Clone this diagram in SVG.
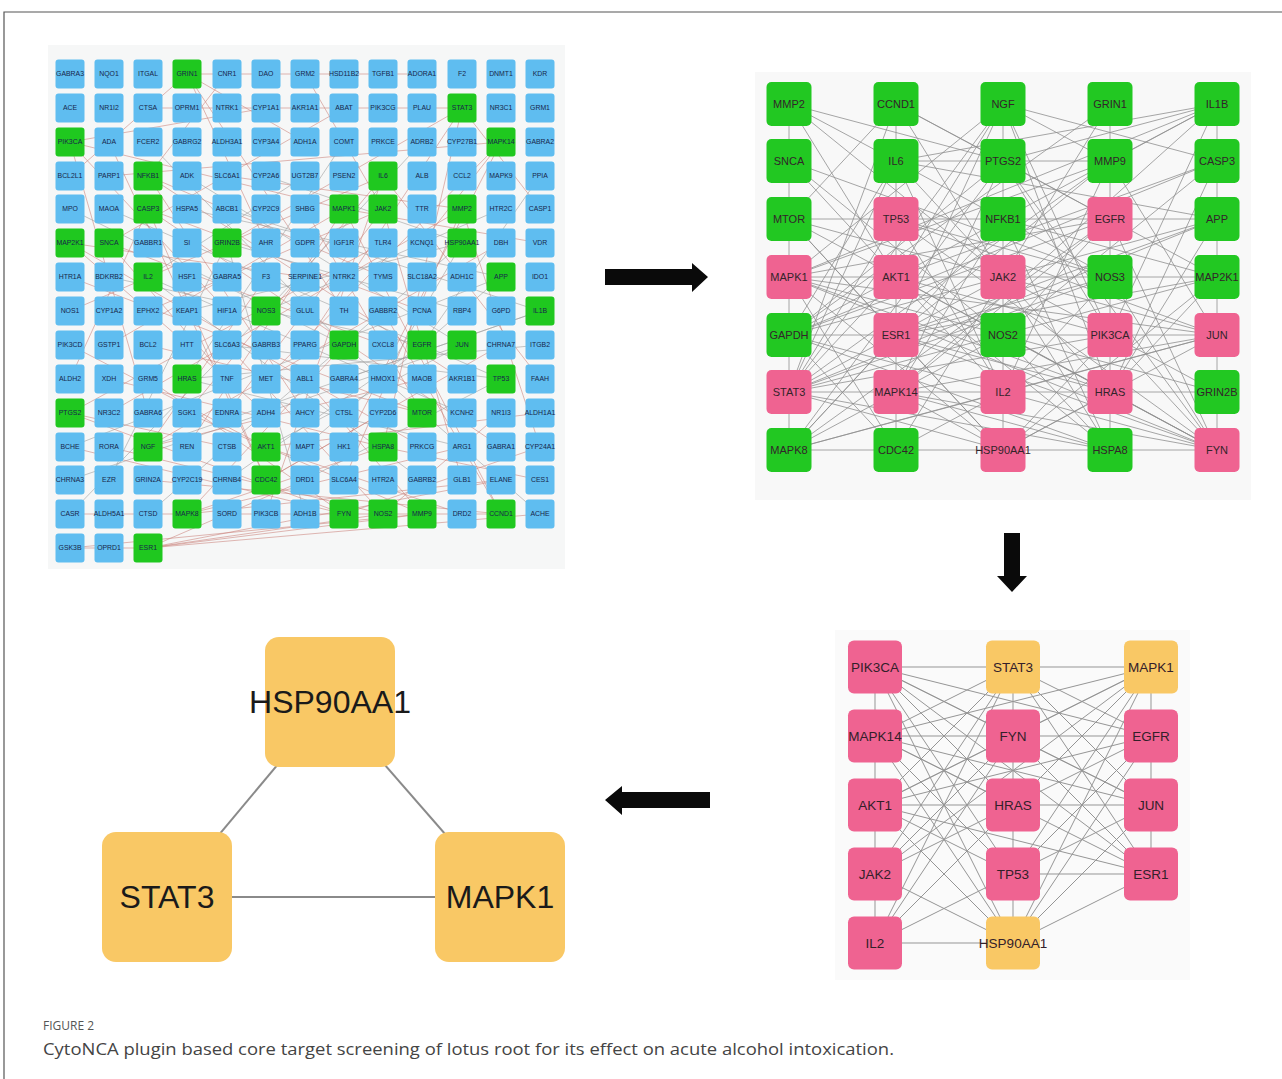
<svg xmlns="http://www.w3.org/2000/svg" xmlns:xlink="http://www.w3.org/1999/xlink" width="1282" height="1079" viewBox="0 0 1282 1079">
<style>
.bl{fill:#5fbdf0}.gr{fill:#1fc81f}
.t1{font-family:"Liberation Sans",Arial,sans-serif;font-size:6.9px;fill:#17264a;text-anchor:middle}
.p2g{fill:#22c822}.p2p{fill:#ef6391}.p3o{fill:#f9c865}
.t2{font-family:"Liberation Sans",Arial,sans-serif;font-size:11px;fill:#33242a;text-anchor:middle}
.t3{font-family:"Liberation Sans",Arial,sans-serif;font-size:13.5px;fill:#33202a;text-anchor:middle}
.t4{font-family:"Liberation Sans",Arial,sans-serif;font-size:32px;fill:#1a1a1a;text-anchor:middle}
.e1{stroke:#c98078;stroke-width:0.7;fill:none;opacity:0.8}
.e1b{stroke:#9e9e9e;stroke-width:0.7;fill:none;opacity:0.85}
.e2 line{stroke:#8f8f8f;stroke-width:0.8}
.e3 line{stroke:#959595;stroke-width:1}
.e4 line{stroke:#8a8a8a;stroke-width:2}
.arr{fill:#0a0a0a}
.cap1{font-family:"Open Sans","Noto Sans",sans-serif;font-size:12px;fill:#555}
.cap2{font-family:"Open Sans","Noto Sans",sans-serif;font-size:17px;fill:#444}
</style>
<defs>
<rect id="nb" x="-14.5" y="-14.5" width="29" height="29" rx="3"/>
<rect id="nb2" x="-22.5" y="-22" width="45" height="44" rx="5"/>
<rect id="nb3" x="-27" y="-26.5" width="54" height="53" rx="6"/>
<rect id="nb4" x="-65" y="-65" width="130" height="130" rx="14"/>
</defs>
<rect width="1282" height="1079" fill="#ffffff"/>
<path d="M4 1079V12H1282" stroke="#555" stroke-width="1.2" fill="none"/>
<rect x="48" y="45" width="517" height="524" fill="#f6f7f7"/>
<rect x="755" y="72" width="496" height="428" fill="#f8f8f8"/>
<rect x="835" y="630" width="355" height="350" fill="#fafafa"/>

<g id="connectors">
<g id="grid-edges">
<path class="e1" d="M187 74L305 142M187 74L266 243M187 74L70 176M187 74L422 74M187 74L344 311M462 108L227 243M462 108L305 345M462 108L383 447M462 108L540 209M462 108L148 108M70 142L227 311M70 142L344 209M70 142L148 413M70 142L266 108M501 142L266 379M501 142L344 447M501 142L422 243M501 142L109 176M148 176L383 277M148 176L305 413M148 176L462 379M148 176L227 74M383 176L70 311M383 176L187 413M383 176L266 514M383 176L540 379M148 209L422 311M148 209L266 480M148 209L501 447M148 209L70 379M344 209L109 345M344 209L187 447M344 209L501 514M344 209L540 243M383 209L148 311M383 209L227 413M383 209L462 480M383 209L305 74M462 209L227 176M462 209L109 413M462 209L344 480M462 209L540 447M70 243L305 277M70 243L266 413M70 243L422 447M109 243L344 108M109 243L227 379M109 243L383 345"/>
<path class="e1b" d="M227 243L462 311M227 243L109 480M227 243L305 514M462 243L187 311M462 243L266 176M462 243L148 514M462 243L383 379M148 277L462 413M148 277L305 176M148 277L422 480M501 277L187 209M501 277L305 447M501 277L70 447M266 311L501 209M266 311L70 514M266 311L422 142M540 311L227 209M540 311L344 379M540 311L148 447M344 345L70 209M344 345L540 514M344 345L148 142M422 345L109 277M422 345L227 480M422 345L540 176M462 345L187 176M462 345L266 447M462 345L70 480M187 379L462 447M187 379L344 142M187 379L540 345M501 379L227 345M501 379L109 209M501 379L305 480"/>
<path class="e1" d="M70 413L344 514M70 413L383 243M70 413L227 447M422 413L148 345M422 413L70 277M422 413L305 209M148 447L422 379M148 447L501 243M148 447L266 277M266 447L540 413M266 447L70 345M266 447L462 514M383 447L109 379M383 447L187 514M383 447L540 480M266 480L501 345M266 480L109 142M266 480L383 413M187 514L462 447M187 514L344 345M187 514L501 480M344 514L70 447M344 514L148 379M344 514L540 447M383 514L109 447M383 514L227 345M383 514L501 413M422 514L187 413M422 514L305 379M422 514L70 548M501 514L227 514M501 514L148 480M501 514L383 311M148 548L422 514M148 548L540 514M148 548L305 480M148 548L501 480M148 548L383 514M70 548L148 548M70 514L187 514"/>
</g>
<g id="p2-edges" class="e2">
<line x1="789" y1="104" x2="789" y2="450"/><line x1="896" y1="104" x2="896" y2="450"/><line x1="1003" y1="104" x2="1003" y2="450"/><line x1="1110" y1="104" x2="1110" y2="450"/><line x1="1217" y1="104" x2="1217" y2="450"/>
<line x1="896" y1="161" x2="1110" y2="161"/><line x1="789" y1="219" x2="1217" y2="219"/><line x1="789" y1="277" x2="1217" y2="277"/><line x1="789" y1="335" x2="1217" y2="335"/><line x1="789" y1="392" x2="1217" y2="392"/><line x1="789" y1="450" x2="1217" y2="450"/>
<line x1="789" y1="104" x2="896" y2="161"/><line x1="789" y1="104" x2="1003" y2="161"/><line x1="789" y1="104" x2="896" y2="277"/><line x1="789" y1="104" x2="1003" y2="277"/>
<line x1="896" y1="104" x2="1003" y2="161"/><line x1="896" y1="104" x2="789" y2="219"/><line x1="896" y1="104" x2="1110" y2="219"/><line x1="896" y1="104" x2="1003" y2="277"/><line x1="896" y1="104" x2="789" y2="392"/>
<line x1="1003" y1="104" x2="1110" y2="161"/><line x1="1003" y1="104" x2="1217" y2="161"/><line x1="1003" y1="104" x2="789" y2="277"/><line x1="1003" y1="104" x2="896" y2="335"/><line x1="1003" y1="104" x2="789" y2="392"/><line x1="1003" y1="104" x2="1110" y2="335"/><line x1="1003" y1="104" x2="896" y2="277"/><line x1="1003" y1="104" x2="1110" y2="392"/>
<line x1="1110" y1="104" x2="1003" y2="277"/><line x1="1110" y1="104" x2="789" y2="335"/>
<line x1="1217" y1="104" x2="1003" y2="161"/><line x1="1217" y1="104" x2="896" y2="161"/><line x1="1217" y1="104" x2="789" y2="277"/><line x1="1217" y1="104" x2="1110" y2="335"/><line x1="1217" y1="104" x2="896" y2="392"/><line x1="1217" y1="104" x2="1003" y2="219"/><line x1="1217" y1="104" x2="1110" y2="161"/>
<line x1="789" y1="161" x2="896" y2="277"/><line x1="789" y1="161" x2="1003" y2="335"/><line x1="789" y1="161" x2="1110" y2="277"/>
<line x1="896" y1="161" x2="1110" y2="277"/><line x1="896" y1="161" x2="1003" y2="392"/><line x1="896" y1="161" x2="789" y2="335"/><line x1="896" y1="161" x2="1217" y2="219"/><line x1="896" y1="161" x2="789" y2="392"/><line x1="896" y1="161" x2="1110" y2="392"/>
<line x1="1003" y1="161" x2="789" y2="335"/><line x1="1003" y1="161" x2="1217" y2="277"/><line x1="1003" y1="161" x2="896" y2="392"/><line x1="1003" y1="161" x2="1110" y2="335"/><line x1="1003" y1="161" x2="789" y2="450"/><line x1="1003" y1="161" x2="1217" y2="450"/>
<line x1="1110" y1="161" x2="789" y2="277"/><line x1="1110" y1="161" x2="896" y2="335"/><line x1="1110" y1="161" x2="1217" y2="335"/><line x1="1110" y1="161" x2="1003" y2="392"/><line x1="1110" y1="161" x2="789" y2="392"/>
<line x1="1217" y1="161" x2="789" y2="335"/><line x1="1217" y1="161" x2="896" y2="277"/><line x1="1217" y1="161" x2="1003" y2="335"/><line x1="1217" y1="161" x2="1110" y2="392"/>
<line x1="789" y1="219" x2="1003" y2="277"/><line x1="789" y1="219" x2="896" y2="335"/><line x1="789" y1="219" x2="1110" y2="392"/><line x1="789" y1="219" x2="1003" y2="450"/>
<line x1="896" y1="219" x2="1110" y2="277"/><line x1="896" y1="219" x2="1217" y2="335"/><line x1="896" y1="219" x2="789" y2="392"/><line x1="896" y1="219" x2="1003" y2="392"/><line x1="896" y1="219" x2="1217" y2="450"/>
<line x1="1003" y1="219" x2="1217" y2="277"/><line x1="1003" y1="219" x2="789" y2="335"/><line x1="1003" y1="219" x2="896" y2="392"/><line x1="1003" y1="219" x2="1110" y2="450"/><line x1="1003" y1="219" x2="789" y2="450"/>
<line x1="1110" y1="219" x2="789" y2="335"/><line x1="1110" y1="219" x2="896" y2="392"/><line x1="1110" y1="219" x2="1003" y2="335"/><line x1="1110" y1="219" x2="789" y2="450"/><line x1="1110" y1="219" x2="1217" y2="450"/><line x1="1110" y1="219" x2="789" y2="277"/>
<line x1="1217" y1="219" x2="896" y2="335"/><line x1="1217" y1="219" x2="789" y2="392"/><line x1="1217" y1="219" x2="1110" y2="392"/><line x1="1217" y1="219" x2="1003" y2="277"/>
<line x1="789" y1="277" x2="1003" y2="335"/><line x1="789" y1="277" x2="1110" y2="392"/><line x1="789" y1="277" x2="896" y2="450"/><line x1="789" y1="277" x2="1217" y2="335"/><line x1="789" y1="277" x2="1003" y2="450"/><line x1="789" y1="277" x2="1217" y2="450"/>
<line x1="896" y1="277" x2="1110" y2="335"/><line x1="896" y1="277" x2="789" y2="392"/><line x1="896" y1="277" x2="1003" y2="392"/><line x1="896" y1="277" x2="1217" y2="450"/><line x1="896" y1="277" x2="1110" y2="450"/>
<line x1="1003" y1="277" x2="1217" y2="335"/><line x1="1003" y1="277" x2="789" y2="392"/><line x1="1003" y1="277" x2="896" y2="450"/><line x1="1003" y1="277" x2="1217" y2="392"/><line x1="1003" y1="277" x2="789" y2="335"/><line x1="1003" y1="277" x2="1110" y2="450"/>
<line x1="1110" y1="277" x2="789" y2="392"/><line x1="1110" y1="277" x2="896" y2="335"/><line x1="1110" y1="277" x2="1217" y2="450"/><line x1="1110" y1="277" x2="1003" y2="392"/>
<line x1="1217" y1="277" x2="789" y2="392"/><line x1="1217" y1="277" x2="1003" y2="450"/><line x1="1217" y1="277" x2="896" y2="335"/><line x1="1217" y1="277" x2="1110" y2="392"/>
<line x1="789" y1="335" x2="1003" y2="392"/><line x1="789" y1="335" x2="896" y2="450"/><line x1="789" y1="335" x2="1110" y2="450"/>
<line x1="896" y1="335" x2="1110" y2="392"/><line x1="896" y1="335" x2="789" y2="450"/><line x1="896" y1="335" x2="1003" y2="450"/><line x1="896" y1="335" x2="1217" y2="450"/>
<line x1="1003" y1="335" x2="1217" y2="392"/><line x1="1003" y1="335" x2="789" y2="450"/><line x1="1003" y1="335" x2="1110" y2="450"/><line x1="1003" y1="335" x2="1217" y2="450"/>
<line x1="1110" y1="335" x2="789" y2="392"/><line x1="1110" y1="335" x2="896" y2="450"/><line x1="1110" y1="335" x2="1217" y2="450"/><line x1="1110" y1="335" x2="1003" y2="450"/>
<line x1="1217" y1="335" x2="1003" y2="392"/><line x1="1217" y1="335" x2="789" y2="450"/><line x1="1217" y1="335" x2="896" y2="392"/><line x1="1217" y1="335" x2="1003" y2="450"/>
<line x1="789" y1="392" x2="1003" y2="450"/><line x1="789" y1="392" x2="1110" y2="450"/>
<line x1="896" y1="392" x2="1003" y2="450"/><line x1="896" y1="392" x2="1110" y2="450"/><line x1="896" y1="392" x2="1217" y2="450"/>
<line x1="1003" y1="392" x2="1217" y2="450"/><line x1="1003" y1="392" x2="789" y2="450"/>
<line x1="1110" y1="392" x2="1217" y2="450"/><line x1="1110" y1="392" x2="1003" y2="450"/>
</g>
<g id="p3-edges" class="e3">
<line x1="875" y1="667" x2="1151" y2="667"/><line x1="875" y1="736" x2="1151" y2="736"/><line x1="875" y1="805" x2="1151" y2="805"/><line x1="1013" y1="874" x2="1151" y2="874"/><line x1="875" y1="943" x2="1013" y2="943"/>
<line x1="875" y1="667" x2="875" y2="943"/><line x1="1013" y1="667" x2="1013" y2="943"/><line x1="1151" y1="667" x2="1151" y2="874"/>
<line x1="875" y1="667" x2="1013" y2="736"/><line x1="875" y1="667" x2="1151" y2="736"/><line x1="875" y1="667" x2="1013" y2="805"/><line x1="875" y1="667" x2="1151" y2="805"/><line x1="875" y1="667" x2="1013" y2="874"/><line x1="875" y1="667" x2="1151" y2="874"/><line x1="875" y1="667" x2="1013" y2="943"/>
<line x1="875" y1="736" x2="1013" y2="667"/><line x1="875" y1="736" x2="1151" y2="667"/><line x1="875" y1="736" x2="1013" y2="805"/><line x1="875" y1="736" x2="1151" y2="805"/><line x1="875" y1="736" x2="1151" y2="874"/><line x1="875" y1="736" x2="1013" y2="874"/><line x1="875" y1="736" x2="1013" y2="943"/>
<line x1="875" y1="805" x2="1013" y2="667"/><line x1="875" y1="805" x2="1151" y2="667"/><line x1="875" y1="805" x2="1013" y2="736"/><line x1="875" y1="805" x2="1013" y2="874"/><line x1="875" y1="805" x2="1151" y2="874"/><line x1="875" y1="805" x2="1013" y2="943"/><line x1="875" y1="805" x2="1151" y2="736"/>
<line x1="875" y1="874" x2="1013" y2="667"/><line x1="875" y1="874" x2="1151" y2="667"/><line x1="875" y1="874" x2="1013" y2="736"/><line x1="875" y1="874" x2="1013" y2="805"/><line x1="875" y1="874" x2="1013" y2="943"/>
<line x1="875" y1="943" x2="1013" y2="667"/><line x1="875" y1="943" x2="1151" y2="667"/><line x1="875" y1="943" x2="1013" y2="736"/><line x1="875" y1="943" x2="1013" y2="805"/><line x1="875" y1="943" x2="1013" y2="874"/>
<line x1="1013" y1="667" x2="1151" y2="736"/><line x1="1013" y1="667" x2="1151" y2="805"/><line x1="1013" y1="667" x2="1151" y2="874"/>
<line x1="1151" y1="667" x2="1013" y2="736"/><line x1="1151" y1="667" x2="1013" y2="805"/><line x1="1151" y1="667" x2="1013" y2="874"/><line x1="1151" y1="667" x2="1013" y2="943"/>
<line x1="1013" y1="736" x2="1151" y2="805"/><line x1="1013" y1="736" x2="1151" y2="874"/>
<line x1="1013" y1="805" x2="1151" y2="736"/>
<line x1="1013" y1="874" x2="1151" y2="736"/><line x1="1013" y1="874" x2="1151" y2="805"/>
<line x1="1013" y1="943" x2="1151" y2="736"/><line x1="1013" y1="943" x2="1151" y2="805"/><line x1="1013" y1="943" x2="1151" y2="874"/>
</g>
<g id="p4-edges" class="e4">
<line x1="330" y1="702" x2="167" y2="897"/><line x1="330" y1="702" x2="500" y2="897"/><line x1="167" y1="897" x2="500" y2="897"/>
</g>
</g>

<g id="grid-nodes">
<g id="g-GABRA3" transform="translate(70,74)"><use href="#nb" class="bl"/><text class="t1" y="2.4">GABRA3</text></g>
<g id="g-NQO1" transform="translate(109,74)"><use href="#nb" class="bl"/><text class="t1" y="2.4">NQO1</text></g>
<g id="g-ITGAL" transform="translate(148,74)"><use href="#nb" class="bl"/><text class="t1" y="2.4">ITGAL</text></g>
<g id="g-GRIN1" transform="translate(187,74)"><use href="#nb" class="gr"/><text class="t1" y="2.4">GRIN1</text></g>
<g id="g-CNR1" transform="translate(227,74)"><use href="#nb" class="bl"/><text class="t1" y="2.4">CNR1</text></g>
<g id="g-DAO" transform="translate(266,74)"><use href="#nb" class="bl"/><text class="t1" y="2.4">DAO</text></g>
<g id="g-GRM2" transform="translate(305,74)"><use href="#nb" class="bl"/><text class="t1" y="2.4">GRM2</text></g>
<g id="g-HSD11B2" transform="translate(344,74)"><use href="#nb" class="bl"/><text class="t1" y="2.4">HSD11B2</text></g>
<g id="g-TGFB1" transform="translate(383,74)"><use href="#nb" class="bl"/><text class="t1" y="2.4">TGFB1</text></g>
<g id="g-ADORA1" transform="translate(422,74)"><use href="#nb" class="bl"/><text class="t1" y="2.4">ADORA1</text></g>
<g id="g-F2" transform="translate(462,74)"><use href="#nb" class="bl"/><text class="t1" y="2.4">F2</text></g>
<g id="g-DNMT1" transform="translate(501,74)"><use href="#nb" class="bl"/><text class="t1" y="2.4">DNMT1</text></g>
<g id="g-KDR" transform="translate(540,74)"><use href="#nb" class="bl"/><text class="t1" y="2.4">KDR</text></g>

<g id="g-ACE" transform="translate(70,108)"><use href="#nb" class="bl"/><text class="t1" y="2.4">ACE</text></g>
<g id="g-NR1I2" transform="translate(109,108)"><use href="#nb" class="bl"/><text class="t1" y="2.4">NR1I2</text></g>
<g id="g-CTSA" transform="translate(148,108)"><use href="#nb" class="bl"/><text class="t1" y="2.4">CTSA</text></g>
<g id="g-OPRM1" transform="translate(187,108)"><use href="#nb" class="bl"/><text class="t1" y="2.4">OPRM1</text></g>
<g id="g-NTRK1" transform="translate(227,108)"><use href="#nb" class="bl"/><text class="t1" y="2.4">NTRK1</text></g>
<g id="g-CYP1A1" transform="translate(266,108)"><use href="#nb" class="bl"/><text class="t1" y="2.4">CYP1A1</text></g>
<g id="g-AKR1A1" transform="translate(305,108)"><use href="#nb" class="bl"/><text class="t1" y="2.4">AKR1A1</text></g>
<g id="g-ABAT" transform="translate(344,108)"><use href="#nb" class="bl"/><text class="t1" y="2.4">ABAT</text></g>
<g id="g-PIK3CG" transform="translate(383,108)"><use href="#nb" class="bl"/><text class="t1" y="2.4">PIK3CG</text></g>
<g id="g-PLAU" transform="translate(422,108)"><use href="#nb" class="bl"/><text class="t1" y="2.4">PLAU</text></g>
<g id="g-STAT3" transform="translate(462,108)"><use href="#nb" class="gr"/><text class="t1" y="2.4">STAT3</text></g>
<g id="g-NR3C1" transform="translate(501,108)"><use href="#nb" class="bl"/><text class="t1" y="2.4">NR3C1</text></g>
<g id="g-GRM1" transform="translate(540,108)"><use href="#nb" class="bl"/><text class="t1" y="2.4">GRM1</text></g>

<g id="g-PIK3CA" transform="translate(70,142)"><use href="#nb" class="gr"/><text class="t1" y="2.4">PIK3CA</text></g>
<g id="g-ADA" transform="translate(109,142)"><use href="#nb" class="bl"/><text class="t1" y="2.4">ADA</text></g>
<g id="g-FCER2" transform="translate(148,142)"><use href="#nb" class="bl"/><text class="t1" y="2.4">FCER2</text></g>
<g id="g-GABRG2" transform="translate(187,142)"><use href="#nb" class="bl"/><text class="t1" y="2.4">GABRG2</text></g>
<g id="g-ALDH3A1" transform="translate(227,142)"><use href="#nb" class="bl"/><text class="t1" y="2.4">ALDH3A1</text></g>
<g id="g-CYP3A4" transform="translate(266,142)"><use href="#nb" class="bl"/><text class="t1" y="2.4">CYP3A4</text></g>
<g id="g-ADH1A" transform="translate(305,142)"><use href="#nb" class="bl"/><text class="t1" y="2.4">ADH1A</text></g>
<g id="g-COMT" transform="translate(344,142)"><use href="#nb" class="bl"/><text class="t1" y="2.4">COMT</text></g>
<g id="g-PRKCE" transform="translate(383,142)"><use href="#nb" class="bl"/><text class="t1" y="2.4">PRKCE</text></g>
<g id="g-ADRB2" transform="translate(422,142)"><use href="#nb" class="bl"/><text class="t1" y="2.4">ADRB2</text></g>
<g id="g-CYP27B1" transform="translate(462,142)"><use href="#nb" class="bl"/><text class="t1" y="2.4">CYP27B1</text></g>
<g id="g-MAPK14" transform="translate(501,142)"><use href="#nb" class="gr"/><text class="t1" y="2.4">MAPK14</text></g>
<g id="g-GABRA2" transform="translate(540,142)"><use href="#nb" class="bl"/><text class="t1" y="2.4">GABRA2</text></g>

<g id="g-BCL2L1" transform="translate(70,176)"><use href="#nb" class="bl"/><text class="t1" y="2.4">BCL2L1</text></g>
<g id="g-PARP1" transform="translate(109,176)"><use href="#nb" class="bl"/><text class="t1" y="2.4">PARP1</text></g>
<g id="g-NFKB1" transform="translate(148,176)"><use href="#nb" class="gr"/><text class="t1" y="2.4">NFKB1</text></g>
<g id="g-ADK" transform="translate(187,176)"><use href="#nb" class="bl"/><text class="t1" y="2.4">ADK</text></g>
<g id="g-SLC6A1" transform="translate(227,176)"><use href="#nb" class="bl"/><text class="t1" y="2.4">SLC6A1</text></g>
<g id="g-CYP2A6" transform="translate(266,176)"><use href="#nb" class="bl"/><text class="t1" y="2.4">CYP2A6</text></g>
<g id="g-UGT2B7" transform="translate(305,176)"><use href="#nb" class="bl"/><text class="t1" y="2.4">UGT2B7</text></g>
<g id="g-PSEN2" transform="translate(344,176)"><use href="#nb" class="bl"/><text class="t1" y="2.4">PSEN2</text></g>
<g id="g-IL6" transform="translate(383,176)"><use href="#nb" class="gr"/><text class="t1" y="2.4">IL6</text></g>
<g id="g-ALB" transform="translate(422,176)"><use href="#nb" class="bl"/><text class="t1" y="2.4">ALB</text></g>
<g id="g-CCL2" transform="translate(462,176)"><use href="#nb" class="bl"/><text class="t1" y="2.4">CCL2</text></g>
<g id="g-MAPK9" transform="translate(501,176)"><use href="#nb" class="bl"/><text class="t1" y="2.4">MAPK9</text></g>
<g id="g-PPIA" transform="translate(540,176)"><use href="#nb" class="bl"/><text class="t1" y="2.4">PPIA</text></g>

<g id="g-MPO" transform="translate(70,209)"><use href="#nb" class="bl"/><text class="t1" y="2.4">MPO</text></g>
<g id="g-MAOA" transform="translate(109,209)"><use href="#nb" class="bl"/><text class="t1" y="2.4">MAOA</text></g>
<g id="g-CASP3" transform="translate(148,209)"><use href="#nb" class="gr"/><text class="t1" y="2.4">CASP3</text></g>
<g id="g-HSPA5" transform="translate(187,209)"><use href="#nb" class="bl"/><text class="t1" y="2.4">HSPA5</text></g>
<g id="g-ABCB1" transform="translate(227,209)"><use href="#nb" class="bl"/><text class="t1" y="2.4">ABCB1</text></g>
<g id="g-CYP2C9" transform="translate(266,209)"><use href="#nb" class="bl"/><text class="t1" y="2.4">CYP2C9</text></g>
<g id="g-SHBG" transform="translate(305,209)"><use href="#nb" class="bl"/><text class="t1" y="2.4">SHBG</text></g>
<g id="g-MAPK1" transform="translate(344,209)"><use href="#nb" class="gr"/><text class="t1" y="2.4">MAPK1</text></g>
<g id="g-JAK2" transform="translate(383,209)"><use href="#nb" class="gr"/><text class="t1" y="2.4">JAK2</text></g>
<g id="g-TTR" transform="translate(422,209)"><use href="#nb" class="bl"/><text class="t1" y="2.4">TTR</text></g>
<g id="g-MMP2" transform="translate(462,209)"><use href="#nb" class="gr"/><text class="t1" y="2.4">MMP2</text></g>
<g id="g-HTR2C" transform="translate(501,209)"><use href="#nb" class="bl"/><text class="t1" y="2.4">HTR2C</text></g>
<g id="g-CASP1" transform="translate(540,209)"><use href="#nb" class="bl"/><text class="t1" y="2.4">CASP1</text></g>

<g id="g-MAP2K1" transform="translate(70,243)"><use href="#nb" class="gr"/><text class="t1" y="2.4">MAP2K1</text></g>
<g id="g-SNCA" transform="translate(109,243)"><use href="#nb" class="gr"/><text class="t1" y="2.4">SNCA</text></g>
<g id="g-GABBR1" transform="translate(148,243)"><use href="#nb" class="bl"/><text class="t1" y="2.4">GABBR1</text></g>
<g id="g-SI" transform="translate(187,243)"><use href="#nb" class="bl"/><text class="t1" y="2.4">SI</text></g>
<g id="g-GRIN2B" transform="translate(227,243)"><use href="#nb" class="gr"/><text class="t1" y="2.4">GRIN2B</text></g>
<g id="g-AHR" transform="translate(266,243)"><use href="#nb" class="bl"/><text class="t1" y="2.4">AHR</text></g>
<g id="g-GDPR" transform="translate(305,243)"><use href="#nb" class="bl"/><text class="t1" y="2.4">GDPR</text></g>
<g id="g-IGF1R" transform="translate(344,243)"><use href="#nb" class="bl"/><text class="t1" y="2.4">IGF1R</text></g>
<g id="g-TLR4" transform="translate(383,243)"><use href="#nb" class="bl"/><text class="t1" y="2.4">TLR4</text></g>
<g id="g-KCNQ1" transform="translate(422,243)"><use href="#nb" class="bl"/><text class="t1" y="2.4">KCNQ1</text></g>
<g id="g-HSP90AA1" transform="translate(462,243)"><use href="#nb" class="gr"/><text class="t1" y="2.4">HSP90AA1</text></g>
<g id="g-DBH" transform="translate(501,243)"><use href="#nb" class="bl"/><text class="t1" y="2.4">DBH</text></g>
<g id="g-VDR" transform="translate(540,243)"><use href="#nb" class="bl"/><text class="t1" y="2.4">VDR</text></g>

<g id="g-HTR1A" transform="translate(70,277)"><use href="#nb" class="bl"/><text class="t1" y="2.4">HTR1A</text></g>
<g id="g-BDKRB2" transform="translate(109,277)"><use href="#nb" class="bl"/><text class="t1" y="2.4">BDKRB2</text></g>
<g id="g-IL2" transform="translate(148,277)"><use href="#nb" class="gr"/><text class="t1" y="2.4">IL2</text></g>
<g id="g-HSF1" transform="translate(187,277)"><use href="#nb" class="bl"/><text class="t1" y="2.4">HSF1</text></g>
<g id="g-GABRA5" transform="translate(227,277)"><use href="#nb" class="bl"/><text class="t1" y="2.4">GABRA5</text></g>
<g id="g-F3" transform="translate(266,277)"><use href="#nb" class="bl"/><text class="t1" y="2.4">F3</text></g>
<g id="g-SERPINE1" transform="translate(305,277)"><use href="#nb" class="bl"/><text class="t1" y="2.4">SERPINE1</text></g>
<g id="g-NTRK2" transform="translate(344,277)"><use href="#nb" class="bl"/><text class="t1" y="2.4">NTRK2</text></g>
<g id="g-TYMS" transform="translate(383,277)"><use href="#nb" class="bl"/><text class="t1" y="2.4">TYMS</text></g>
<g id="g-SLC18A2" transform="translate(422,277)"><use href="#nb" class="bl"/><text class="t1" y="2.4">SLC18A2</text></g>
<g id="g-ADH1C" transform="translate(462,277)"><use href="#nb" class="bl"/><text class="t1" y="2.4">ADH1C</text></g>
<g id="g-APP" transform="translate(501,277)"><use href="#nb" class="gr"/><text class="t1" y="2.4">APP</text></g>
<g id="g-IDO1" transform="translate(540,277)"><use href="#nb" class="bl"/><text class="t1" y="2.4">IDO1</text></g>

<g id="g-NOS1" transform="translate(70,311)"><use href="#nb" class="bl"/><text class="t1" y="2.4">NOS1</text></g>
<g id="g-CYP1A2" transform="translate(109,311)"><use href="#nb" class="bl"/><text class="t1" y="2.4">CYP1A2</text></g>
<g id="g-EPHX2" transform="translate(148,311)"><use href="#nb" class="bl"/><text class="t1" y="2.4">EPHX2</text></g>
<g id="g-KEAP1" transform="translate(187,311)"><use href="#nb" class="bl"/><text class="t1" y="2.4">KEAP1</text></g>
<g id="g-HIF1A" transform="translate(227,311)"><use href="#nb" class="bl"/><text class="t1" y="2.4">HIF1A</text></g>
<g id="g-NOS3" transform="translate(266,311)"><use href="#nb" class="gr"/><text class="t1" y="2.4">NOS3</text></g>
<g id="g-GLUL" transform="translate(305,311)"><use href="#nb" class="bl"/><text class="t1" y="2.4">GLUL</text></g>
<g id="g-TH" transform="translate(344,311)"><use href="#nb" class="bl"/><text class="t1" y="2.4">TH</text></g>
<g id="g-GABBR2" transform="translate(383,311)"><use href="#nb" class="bl"/><text class="t1" y="2.4">GABBR2</text></g>
<g id="g-PCNA" transform="translate(422,311)"><use href="#nb" class="bl"/><text class="t1" y="2.4">PCNA</text></g>
<g id="g-RBP4" transform="translate(462,311)"><use href="#nb" class="bl"/><text class="t1" y="2.4">RBP4</text></g>
<g id="g-G6PD" transform="translate(501,311)"><use href="#nb" class="bl"/><text class="t1" y="2.4">G6PD</text></g>
<g id="g-IL1B" transform="translate(540,311)"><use href="#nb" class="gr"/><text class="t1" y="2.4">IL1B</text></g>

<g id="g-PIK3CD" transform="translate(70,345)"><use href="#nb" class="bl"/><text class="t1" y="2.4">PIK3CD</text></g>
<g id="g-GSTP1" transform="translate(109,345)"><use href="#nb" class="bl"/><text class="t1" y="2.4">GSTP1</text></g>
<g id="g-BCL2" transform="translate(148,345)"><use href="#nb" class="bl"/><text class="t1" y="2.4">BCL2</text></g>
<g id="g-HTT" transform="translate(187,345)"><use href="#nb" class="bl"/><text class="t1" y="2.4">HTT</text></g>
<g id="g-SLC6A3" transform="translate(227,345)"><use href="#nb" class="bl"/><text class="t1" y="2.4">SLC6A3</text></g>
<g id="g-GABRB3" transform="translate(266,345)"><use href="#nb" class="bl"/><text class="t1" y="2.4">GABRB3</text></g>
<g id="g-PPARG" transform="translate(305,345)"><use href="#nb" class="bl"/><text class="t1" y="2.4">PPARG</text></g>
<g id="g-GAPDH" transform="translate(344,345)"><use href="#nb" class="gr"/><text class="t1" y="2.4">GAPDH</text></g>
<g id="g-CXCL8" transform="translate(383,345)"><use href="#nb" class="bl"/><text class="t1" y="2.4">CXCL8</text></g>
<g id="g-EGFR" transform="translate(422,345)"><use href="#nb" class="gr"/><text class="t1" y="2.4">EGFR</text></g>
<g id="g-JUN" transform="translate(462,345)"><use href="#nb" class="gr"/><text class="t1" y="2.4">JUN</text></g>
<g id="g-CHRNA7" transform="translate(501,345)"><use href="#nb" class="bl"/><text class="t1" y="2.4">CHRNA7</text></g>
<g id="g-ITGB2" transform="translate(540,345)"><use href="#nb" class="bl"/><text class="t1" y="2.4">ITGB2</text></g>

<g id="g-ALDH2" transform="translate(70,379)"><use href="#nb" class="bl"/><text class="t1" y="2.4">ALDH2</text></g>
<g id="g-XDH" transform="translate(109,379)"><use href="#nb" class="bl"/><text class="t1" y="2.4">XDH</text></g>
<g id="g-GRM5" transform="translate(148,379)"><use href="#nb" class="bl"/><text class="t1" y="2.4">GRM5</text></g>
<g id="g-HRAS" transform="translate(187,379)"><use href="#nb" class="gr"/><text class="t1" y="2.4">HRAS</text></g>
<g id="g-TNF" transform="translate(227,379)"><use href="#nb" class="bl"/><text class="t1" y="2.4">TNF</text></g>
<g id="g-MET" transform="translate(266,379)"><use href="#nb" class="bl"/><text class="t1" y="2.4">MET</text></g>
<g id="g-ABL1" transform="translate(305,379)"><use href="#nb" class="bl"/><text class="t1" y="2.4">ABL1</text></g>
<g id="g-GABRA4" transform="translate(344,379)"><use href="#nb" class="bl"/><text class="t1" y="2.4">GABRA4</text></g>
<g id="g-HMOX1" transform="translate(383,379)"><use href="#nb" class="bl"/><text class="t1" y="2.4">HMOX1</text></g>
<g id="g-MAOB" transform="translate(422,379)"><use href="#nb" class="bl"/><text class="t1" y="2.4">MAOB</text></g>
<g id="g-AKR1B1" transform="translate(462,379)"><use href="#nb" class="bl"/><text class="t1" y="2.4">AKR1B1</text></g>
<g id="g-TP53" transform="translate(501,379)"><use href="#nb" class="gr"/><text class="t1" y="2.4">TP53</text></g>
<g id="g-FAAH" transform="translate(540,379)"><use href="#nb" class="bl"/><text class="t1" y="2.4">FAAH</text></g>

<g id="g-PTGS2" transform="translate(70,413)"><use href="#nb" class="gr"/><text class="t1" y="2.4">PTGS2</text></g>
<g id="g-NR3C2" transform="translate(109,413)"><use href="#nb" class="bl"/><text class="t1" y="2.4">NR3C2</text></g>
<g id="g-GABRA6" transform="translate(148,413)"><use href="#nb" class="bl"/><text class="t1" y="2.4">GABRA6</text></g>
<g id="g-SGK1" transform="translate(187,413)"><use href="#nb" class="bl"/><text class="t1" y="2.4">SGK1</text></g>
<g id="g-EDNRA" transform="translate(227,413)"><use href="#nb" class="bl"/><text class="t1" y="2.4">EDNRA</text></g>
<g id="g-ADH4" transform="translate(266,413)"><use href="#nb" class="bl"/><text class="t1" y="2.4">ADH4</text></g>
<g id="g-AHCY" transform="translate(305,413)"><use href="#nb" class="bl"/><text class="t1" y="2.4">AHCY</text></g>
<g id="g-CTSL" transform="translate(344,413)"><use href="#nb" class="bl"/><text class="t1" y="2.4">CTSL</text></g>
<g id="g-CYP2D6" transform="translate(383,413)"><use href="#nb" class="bl"/><text class="t1" y="2.4">CYP2D6</text></g>
<g id="g-MTOR" transform="translate(422,413)"><use href="#nb" class="gr"/><text class="t1" y="2.4">MTOR</text></g>
<g id="g-KCNH2" transform="translate(462,413)"><use href="#nb" class="bl"/><text class="t1" y="2.4">KCNH2</text></g>
<g id="g-NR1I3" transform="translate(501,413)"><use href="#nb" class="bl"/><text class="t1" y="2.4">NR1I3</text></g>
<g id="g-ALDH1A1" transform="translate(540,413)"><use href="#nb" class="bl"/><text class="t1" y="2.4">ALDH1A1</text></g>

<g id="g-BCHE" transform="translate(70,447)"><use href="#nb" class="bl"/><text class="t1" y="2.4">BCHE</text></g>
<g id="g-RORA" transform="translate(109,447)"><use href="#nb" class="bl"/><text class="t1" y="2.4">RORA</text></g>
<g id="g-NGF" transform="translate(148,447)"><use href="#nb" class="gr"/><text class="t1" y="2.4">NGF</text></g>
<g id="g-REN" transform="translate(187,447)"><use href="#nb" class="bl"/><text class="t1" y="2.4">REN</text></g>
<g id="g-CTSB" transform="translate(227,447)"><use href="#nb" class="bl"/><text class="t1" y="2.4">CTSB</text></g>
<g id="g-AKT1" transform="translate(266,447)"><use href="#nb" class="gr"/><text class="t1" y="2.4">AKT1</text></g>
<g id="g-MAPT" transform="translate(305,447)"><use href="#nb" class="bl"/><text class="t1" y="2.4">MAPT</text></g>
<g id="g-HK1" transform="translate(344,447)"><use href="#nb" class="bl"/><text class="t1" y="2.4">HK1</text></g>
<g id="g-HSPA8" transform="translate(383,447)"><use href="#nb" class="gr"/><text class="t1" y="2.4">HSPA8</text></g>
<g id="g-PRKCG" transform="translate(422,447)"><use href="#nb" class="bl"/><text class="t1" y="2.4">PRKCG</text></g>
<g id="g-ARG1" transform="translate(462,447)"><use href="#nb" class="bl"/><text class="t1" y="2.4">ARG1</text></g>
<g id="g-GABRA1" transform="translate(501,447)"><use href="#nb" class="bl"/><text class="t1" y="2.4">GABRA1</text></g>
<g id="g-CYP24A1" transform="translate(540,447)"><use href="#nb" class="bl"/><text class="t1" y="2.4">CYP24A1</text></g>

<g id="g-CHRNA3" transform="translate(70,480)"><use href="#nb" class="bl"/><text class="t1" y="2.4">CHRNA3</text></g>
<g id="g-EZR" transform="translate(109,480)"><use href="#nb" class="bl"/><text class="t1" y="2.4">EZR</text></g>
<g id="g-GRIN2A" transform="translate(148,480)"><use href="#nb" class="bl"/><text class="t1" y="2.4">GRIN2A</text></g>
<g id="g-CYP2C19" transform="translate(187,480)"><use href="#nb" class="bl"/><text class="t1" y="2.4">CYP2C19</text></g>
<g id="g-CHRNB4" transform="translate(227,480)"><use href="#nb" class="bl"/><text class="t1" y="2.4">CHRNB4</text></g>
<g id="g-CDC42" transform="translate(266,480)"><use href="#nb" class="gr"/><text class="t1" y="2.4">CDC42</text></g>
<g id="g-DRD1" transform="translate(305,480)"><use href="#nb" class="bl"/><text class="t1" y="2.4">DRD1</text></g>
<g id="g-SLC6A4" transform="translate(344,480)"><use href="#nb" class="bl"/><text class="t1" y="2.4">SLC6A4</text></g>
<g id="g-HTR2A" transform="translate(383,480)"><use href="#nb" class="bl"/><text class="t1" y="2.4">HTR2A</text></g>
<g id="g-GABRB2" transform="translate(422,480)"><use href="#nb" class="bl"/><text class="t1" y="2.4">GABRB2</text></g>
<g id="g-GLB1" transform="translate(462,480)"><use href="#nb" class="bl"/><text class="t1" y="2.4">GLB1</text></g>
<g id="g-ELANE" transform="translate(501,480)"><use href="#nb" class="bl"/><text class="t1" y="2.4">ELANE</text></g>
<g id="g-CES1" transform="translate(540,480)"><use href="#nb" class="bl"/><text class="t1" y="2.4">CES1</text></g>

<g id="g-CASR" transform="translate(70,514)"><use href="#nb" class="bl"/><text class="t1" y="2.4">CASR</text></g>
<g id="g-ALDH5A1" transform="translate(109,514)"><use href="#nb" class="bl"/><text class="t1" y="2.4">ALDH5A1</text></g>
<g id="g-CTSD" transform="translate(148,514)"><use href="#nb" class="bl"/><text class="t1" y="2.4">CTSD</text></g>
<g id="g-MAPK8" transform="translate(187,514)"><use href="#nb" class="gr"/><text class="t1" y="2.4">MAPK8</text></g>
<g id="g-SORD" transform="translate(227,514)"><use href="#nb" class="bl"/><text class="t1" y="2.4">SORD</text></g>
<g id="g-PIK3CB" transform="translate(266,514)"><use href="#nb" class="bl"/><text class="t1" y="2.4">PIK3CB</text></g>
<g id="g-ADH1B" transform="translate(305,514)"><use href="#nb" class="bl"/><text class="t1" y="2.4">ADH1B</text></g>
<g id="g-FYN" transform="translate(344,514)"><use href="#nb" class="gr"/><text class="t1" y="2.4">FYN</text></g>
<g id="g-NOS2" transform="translate(383,514)"><use href="#nb" class="gr"/><text class="t1" y="2.4">NOS2</text></g>
<g id="g-MMP9" transform="translate(422,514)"><use href="#nb" class="gr"/><text class="t1" y="2.4">MMP9</text></g>
<g id="g-DRD2" transform="translate(462,514)"><use href="#nb" class="bl"/><text class="t1" y="2.4">DRD2</text></g>
<g id="g-CCND1" transform="translate(501,514)"><use href="#nb" class="gr"/><text class="t1" y="2.4">CCND1</text></g>
<g id="g-ACHE" transform="translate(540,514)"><use href="#nb" class="bl"/><text class="t1" y="2.4">ACHE</text></g>

<g id="g-GSK3B" transform="translate(70,548)"><use href="#nb" class="bl"/><text class="t1" y="2.4">GSK3B</text></g>
<g id="g-OPRD1" transform="translate(109,548)"><use href="#nb" class="bl"/><text class="t1" y="2.4">OPRD1</text></g>
<g id="g-ESR1" transform="translate(148,548)"><use href="#nb" class="gr"/><text class="t1" y="2.4">ESR1</text></g>
</g>

<g id="p2-nodes">
<g id="p2-MMP2" transform="translate(789,104)"><use href="#nb2" class="p2g"/><text class="t2" y="4">MMP2</text></g>
<g id="p2-CCND1" transform="translate(896,104)"><use href="#nb2" class="p2g"/><text class="t2" y="4">CCND1</text></g>
<g id="p2-NGF" transform="translate(1003,104)"><use href="#nb2" class="p2g"/><text class="t2" y="4">NGF</text></g>
<g id="p2-GRIN1" transform="translate(1110,104)"><use href="#nb2" class="p2g"/><text class="t2" y="4">GRIN1</text></g>
<g id="p2-IL1B" transform="translate(1217,104)"><use href="#nb2" class="p2g"/><text class="t2" y="4">IL1B</text></g>
<g id="p2-SNCA" transform="translate(789,161)"><use href="#nb2" class="p2g"/><text class="t2" y="4">SNCA</text></g>
<g id="p2-IL6" transform="translate(896,161)"><use href="#nb2" class="p2g"/><text class="t2" y="4">IL6</text></g>
<g id="p2-PTGS2" transform="translate(1003,161)"><use href="#nb2" class="p2g"/><text class="t2" y="4">PTGS2</text></g>
<g id="p2-MMP9" transform="translate(1110,161)"><use href="#nb2" class="p2g"/><text class="t2" y="4">MMP9</text></g>
<g id="p2-CASP3" transform="translate(1217,161)"><use href="#nb2" class="p2g"/><text class="t2" y="4">CASP3</text></g>
<g id="p2-MTOR" transform="translate(789,219)"><use href="#nb2" class="p2g"/><text class="t2" y="4">MTOR</text></g>
<g id="p2-TP53" transform="translate(896,219)"><use href="#nb2" class="p2p"/><text class="t2" y="4">TP53</text></g>
<g id="p2-NFKB1" transform="translate(1003,219)"><use href="#nb2" class="p2g"/><text class="t2" y="4">NFKB1</text></g>
<g id="p2-EGFR" transform="translate(1110,219)"><use href="#nb2" class="p2p"/><text class="t2" y="4">EGFR</text></g>
<g id="p2-APP" transform="translate(1217,219)"><use href="#nb2" class="p2g"/><text class="t2" y="4">APP</text></g>
<g id="p2-MAPK1" transform="translate(789,277)"><use href="#nb2" class="p2p"/><text class="t2" y="4">MAPK1</text></g>
<g id="p2-AKT1" transform="translate(896,277)"><use href="#nb2" class="p2p"/><text class="t2" y="4">AKT1</text></g>
<g id="p2-JAK2" transform="translate(1003,277)"><use href="#nb2" class="p2p"/><text class="t2" y="4">JAK2</text></g>
<g id="p2-NOS3" transform="translate(1110,277)"><use href="#nb2" class="p2g"/><text class="t2" y="4">NOS3</text></g>
<g id="p2-MAP2K1" transform="translate(1217,277)"><use href="#nb2" class="p2g"/><text class="t2" y="4">MAP2K1</text></g>
<g id="p2-GAPDH" transform="translate(789,335)"><use href="#nb2" class="p2g"/><text class="t2" y="4">GAPDH</text></g>
<g id="p2-ESR1" transform="translate(896,335)"><use href="#nb2" class="p2p"/><text class="t2" y="4">ESR1</text></g>
<g id="p2-NOS2" transform="translate(1003,335)"><use href="#nb2" class="p2g"/><text class="t2" y="4">NOS2</text></g>
<g id="p2-PIK3CA" transform="translate(1110,335)"><use href="#nb2" class="p2p"/><text class="t2" y="4">PIK3CA</text></g>
<g id="p2-JUN" transform="translate(1217,335)"><use href="#nb2" class="p2p"/><text class="t2" y="4">JUN</text></g>
<g id="p2-STAT3" transform="translate(789,392)"><use href="#nb2" class="p2p"/><text class="t2" y="4">STAT3</text></g>
<g id="p2-MAPK14" transform="translate(896,392)"><use href="#nb2" class="p2p"/><text class="t2" y="4">MAPK14</text></g>
<g id="p2-IL2" transform="translate(1003,392)"><use href="#nb2" class="p2p"/><text class="t2" y="4">IL2</text></g>
<g id="p2-HRAS" transform="translate(1110,392)"><use href="#nb2" class="p2p"/><text class="t2" y="4">HRAS</text></g>
<g id="p2-GRIN2B" transform="translate(1217,392)"><use href="#nb2" class="p2g"/><text class="t2" y="4">GRIN2B</text></g>
<g id="p2-MAPK8" transform="translate(789,450)"><use href="#nb2" class="p2g"/><text class="t2" y="4">MAPK8</text></g>
<g id="p2-CDC42" transform="translate(896,450)"><use href="#nb2" class="p2g"/><text class="t2" y="4">CDC42</text></g>
<g id="p2-HSP90AA1" transform="translate(1003,450)"><use href="#nb2" class="p2p"/><text class="t2" y="4">HSP90AA1</text></g>
<g id="p2-HSPA8" transform="translate(1110,450)"><use href="#nb2" class="p2g"/><text class="t2" y="4">HSPA8</text></g>
<g id="p2-FYN" transform="translate(1217,450)"><use href="#nb2" class="p2p"/><text class="t2" y="4">FYN</text></g>
</g>

<g id="p3-nodes">
<g id="p3-PIK3CA" transform="translate(875,667)"><use href="#nb3" class="p2p"/><text class="t3" y="5">PIK3CA</text></g>
<g id="p3-MAPK14" transform="translate(875,736)"><use href="#nb3" class="p2p"/><text class="t3" y="5">MAPK14</text></g>
<g id="p3-AKT1" transform="translate(875,805)"><use href="#nb3" class="p2p"/><text class="t3" y="5">AKT1</text></g>
<g id="p3-JAK2" transform="translate(875,874)"><use href="#nb3" class="p2p"/><text class="t3" y="5">JAK2</text></g>
<g id="p3-IL2" transform="translate(875,943)"><use href="#nb3" class="p2p"/><text class="t3" y="5">IL2</text></g>
<g id="p3-STAT3" transform="translate(1013,667)"><use href="#nb3" class="p3o"/><text class="t3" y="5">STAT3</text></g>
<g id="p3-FYN" transform="translate(1013,736)"><use href="#nb3" class="p2p"/><text class="t3" y="5">FYN</text></g>
<g id="p3-HRAS" transform="translate(1013,805)"><use href="#nb3" class="p2p"/><text class="t3" y="5">HRAS</text></g>
<g id="p3-TP53" transform="translate(1013,874)"><use href="#nb3" class="p2p"/><text class="t3" y="5">TP53</text></g>
<g id="p3-HSP90AA1" transform="translate(1013,943)"><use href="#nb3" class="p3o"/><text class="t3" y="5">HSP90AA1</text></g>
<g id="p3-MAPK1" transform="translate(1151,667)"><use href="#nb3" class="p3o"/><text class="t3" y="5">MAPK1</text></g>
<g id="p3-EGFR" transform="translate(1151,736)"><use href="#nb3" class="p2p"/><text class="t3" y="5">EGFR</text></g>
<g id="p3-JUN" transform="translate(1151,805)"><use href="#nb3" class="p2p"/><text class="t3" y="5">JUN</text></g>
<g id="p3-ESR1" transform="translate(1151,874)"><use href="#nb3" class="p2p"/><text class="t3" y="5">ESR1</text></g>
</g>

<g id="p4-nodes">
<g id="p4-HSP90AA1" transform="translate(330,702)"><use href="#nb4" class="p3o"/><text class="t4" y="11">HSP90AA1</text></g>
<g id="p4-STAT3" transform="translate(167,897)"><use href="#nb4" class="p3o"/><text class="t4" y="11">STAT3</text></g>
<g id="p4-MAPK1" transform="translate(500,897)"><use href="#nb4" class="p3o"/><text class="t4" y="11">MAPK1</text></g>
</g>

<g id="arrows">
<polygon class="arr" points="605,269 692,269 692,263 708,277 692,292 692,285 605,285"/>
<polygon class="arr" points="1004,533 1020,533 1020,576 1027,576 1012,592 997,576 1004,576"/>
<polygon class="arr" points="710,792 622,792 622,786 605,800 622,815 622,808 710,808"/>
</g>

<g id="caption">
<text class="cap1" x="43" y="1030">FIGURE 2</text>
<text class="cap2" x="43" y="1055" textLength="851" lengthAdjust="spacingAndGlyphs">CytoNCA plugin based core target screening of lotus root for its effect on acute alcohol intoxication.</text>
</g>
</svg>
